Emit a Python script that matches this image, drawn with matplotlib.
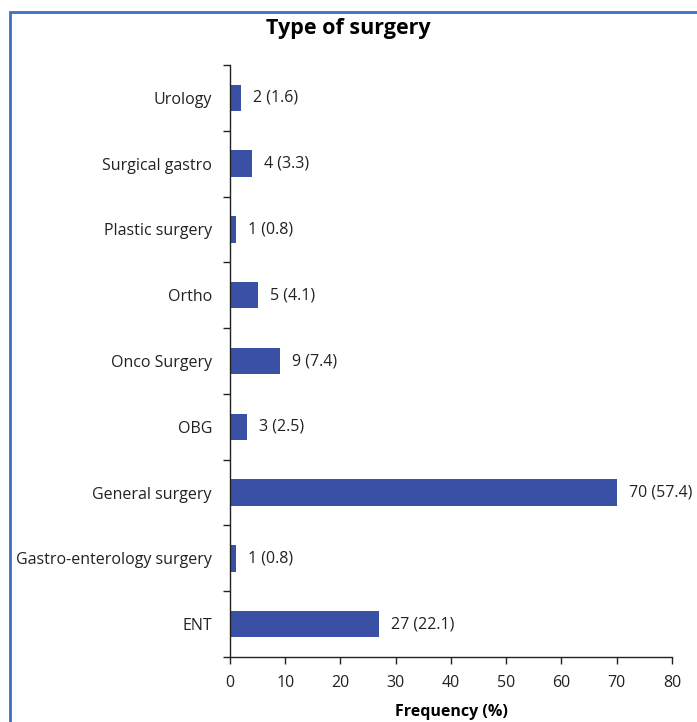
import matplotlib
matplotlib.use('Agg')
import matplotlib.pyplot as plt
from matplotlib.patches import Rectangle

categories = ['ENT', 'Gastro-enterology surgery', 'General surgery', 'OBG',
              'Onco Surgery', 'Ortho', 'Plastic surgery', 'Surgical gastro', 'Urology']
counts = [27, 1, 70, 3, 9, 5, 1, 4, 2]
percents = [22.1, 0.8, 57.4, 2.5, 7.4, 4.1, 0.8, 3.3, 1.6]

BAR_COLOR = '#3A50A4'
FRAME_COLOR = '#3F6CC4'

plt.rcParams['font.family'] = ['Open Sans', 'DejaVu Sans']

fig = plt.figure(figsize=(6.97, 7.22), dpi=100)
ax = fig.add_axes([0.330, 0.090, 0.634, 0.820])

y = list(range(len(categories)))
ax.barh(y, counts, height=0.4, color=BAR_COLOR, zorder=2)
for yi, c, p in zip(y, counts, percents):
    ax.text(c + 2.2, yi, f'{c} ({p})', va='center', ha='left', fontsize=11.5,
            color='#222222')

ax.set_xlim(0, 80)
ax.set_xticks(range(0, 81, 10))
ax.set_ylim(-0.5, len(categories) - 0.5)
ax.set_yticks(y)
ax.set_yticklabels(categories)
ax.set_yticks([i - 0.5 for i in range(len(categories) + 1)], minor=True)
ax.tick_params(axis='y', which='major', length=0, pad=13, labelsize=11.5,
               labelcolor='#222222')
ax.tick_params(axis='y', which='minor', length=5, width=1, color='#222222')
ax.tick_params(axis='x', length=5, width=1, color='#222222', labelsize=11.5,
               labelcolor='#222222', pad=8)
for s in ['top', 'right']:
    ax.spines[s].set_visible(False)
for s in ['left', 'bottom']:
    ax.spines[s].set_color('#222222')
    ax.spines[s].set_linewidth(1)

ax.set_xlabel('Frequency (%)', fontsize=11.5, fontweight='bold', labelpad=9)
fig.text(0.5, 0.961, 'Type of surgery', ha='center', va='center',
         fontsize=15.5, fontweight='bold')

frame = Rectangle((10 / 697, -0.1), 1.2, 1.1 - 12 / 722,
                  transform=fig.transFigure, fill=False,
                  edgecolor=FRAME_COLOR, linewidth=2, clip_on=False)
fig.add_artist(frame)

fig.savefig('out.png', dpi=100)
